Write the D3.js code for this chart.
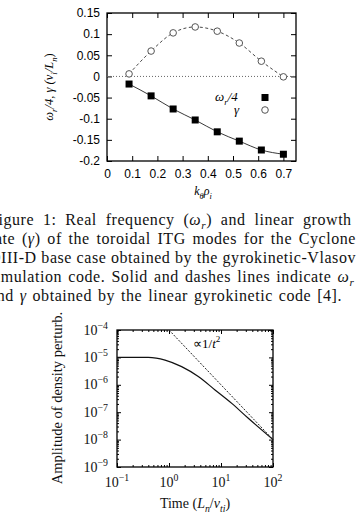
<!DOCTYPE html>
<html>
<head>
<meta charset="utf-8">
<script src="https://cdn.jsdelivr.net/npm/d3@7"></script>
<style>
body { margin: 0; background: #fff; overflow: hidden; }
svg { display: block; }
</style>
</head>
<body>
<script>
// top panel: growth rate and real frequency vs k_theta rho_i
const kRho = [0.0875, 0.175, 0.2625, 0.35, 0.4375, 0.525, 0.6125, 0.7];
const gammaVals = [0.006, 0.060, 0.103, 0.117, 0.107, 0.079, 0.036, -0.001];
const omegaQuarter = [-0.018, -0.046, -0.077, -0.103, -0.131, -0.153, -0.174, -0.184];
const topYTicks = [-0.2, -0.15, -0.1, -0.05, 0, 0.05, 0.1, 0.15];
const topXTicks = [0, 0.1, 0.2, 0.3, 0.4, 0.5, 0.6, 0.7];

// bottom panel: amplitude decay vs time
const timeVals = [0.1, 0.2, 0.4, 0.84, 1.75, 3.66, 7.67, 16.1, 33.5, 100];
const ampVals = [1e-5, 1e-5, 1e-5, 8.0e-6, 4.6e-6, 2.0e-6, 6.5e-7, 2.1e-7, 6e-8, 1e-8];
const fitTime = [1, 100];
const fitAmp = [1e-4, 1e-8];
const botYTicks = [1e-9, 1e-8, 1e-7, 1e-6, 1e-5, 1e-4];
const botYExp = ["−9", "−8", "−7", "−6", "−5", "−4"];
const botXTicks = [0.1, 1, 10, 100];
const botXExp = ["−1", "0", "1", "2"];

const caption = [
  [["Figure 1:  Real frequency ("], ["ω", "it"], ["r", "sub it"], [") and linear growth"]],
  [["rate ("], ["γ", "it"], [") of the toroidal ITG modes for the Cyclone"]],
  [["DIII-D base case obtained by the gyrokinetic-Vlasov"]],
  [["simulation code.  Solid and dashes lines indicate "], ["ω", "it"], ["r", "sub it"]],
  [["and "], ["γ", "it"], [" obtained by the linear gyrokinetic code [4]."]]
];

const SERIF = "'Liberation Serif', 'Times New Roman', serif";
const SANS = "'Liberation Sans', Arial, sans-serif";

var svg = d3.select("body").append("svg")
  .attr("width", 357)
  .attr("height", 513);

// text with sub/superscripts, parts = [[str, flags], ...]
function rich(sel, parts, size) {
  var shift = 0;
  parts.forEach(p => {
    var f = p[1] || "";
    var want = f.includes("sub") ? size * 0.3 : f.includes("sup") ? -size * 0.42 : 0;
    sel.append("tspan")
      .attr("dy", want - shift)
      .attr("font-size", want != 0 ? size * 0.7 : size)
      .attr("font-style", f.includes("it") ? "italic" : "normal")
      .text(p[0]);
    shift = want;
  });
  return sel;
}

// ---------- top panel ----------
var xT = d3.scaleLinear().domain([0, 0.75]).range([107, 296]);
var yT = d3.scaleLinear().domain([-0.2, 0.15]).range([161, 13]);

var fmt = d => String(+d.toFixed(2));

function styleAxis(g, size, family) {
  g.attr("font-size", size).attr("font-family", family);
  g.select(".domain").remove();
  g.selectAll(".tick line").attr("stroke", "#000").attr("stroke-width", 1);
  g.selectAll(".tick text").attr("fill", "#000");
}

svg.append("g").attr("transform", "translate(107,0)")
  .call(d3.axisLeft(yT).tickValues(topYTicks).tickSize(-5).tickPadding(7).tickFormat(fmt))
  .call(g => styleAxis(g, 12, SANS));
svg.append("g").attr("transform", "translate(296,0)")
  .call(d3.axisRight(yT).tickValues(topYTicks).tickSize(-5).tickFormat(""))
  .call(g => styleAxis(g, 12, SANS));
svg.append("g").attr("transform", "translate(0,161)")
  .call(d3.axisBottom(xT).tickValues(topXTicks).tickSize(-5).tickPadding(8).tickFormat(fmt))
  .call(g => styleAxis(g, 12, SANS));
svg.append("g").attr("transform", "translate(0,13)")
  .call(d3.axisTop(xT).tickValues(topXTicks).tickSize(-5).tickFormat(""))
  .call(g => styleAxis(g, 12, SANS));

svg.append("rect")
  .attr("x", xT(0)).attr("y", yT(0.15))
  .attr("width", xT(0.75) - xT(0)).attr("height", yT(-0.2) - yT(0.15))
  .attr("fill", "none").attr("stroke", "#000").attr("stroke-width", 1.3);

// zero line
svg.append("line")
  .attr("x1", xT(0)).attr("x2", xT(0.75))
  .attr("y1", yT(0)).attr("y2", yT(0))
  .attr("stroke", "#666").attr("stroke-width", 1).attr("stroke-dasharray", "1,2");

var topLine = d3.line().curve(d3.curveMonotoneX);

svg.append("path")
  .attr("d", topLine(kRho.map((k, i) => [xT(k), yT(gammaVals[i])])))
  .attr("fill", "none").attr("stroke", "#333").attr("stroke-width", 0.9)
  .attr("stroke-dasharray", "3,2.5");
svg.append("path")
  .attr("d", topLine(kRho.map((k, i) => [xT(k), yT(omegaQuarter[i])])))
  .attr("fill", "none").attr("stroke", "#222").attr("stroke-width", 0.9);

svg.append("g").selectAll("rect")
  .data(omegaQuarter)
  .enter().append("rect")
  .attr("x", (d, i) => xT(kRho[i]) - 3.5)
  .attr("y", d => yT(d) - 3.5)
  .attr("width", 7).attr("height", 7)
  .attr("fill", "#000");

svg.append("g").selectAll("circle")
  .data(gammaVals)
  .enter().append("circle")
  .attr("cx", (d, i) => xT(kRho[i]))
  .attr("cy", d => yT(d))
  .attr("r", 3.3)
  .attr("fill", "#fff").attr("stroke", "#555").attr("stroke-width", 1);

// legend
rich(svg.append("text").attr("x", 215).attr("y", 101).attr("font-family", SERIF),
  [["ω", "it"], ["r", "sub it"], ["/4", "it"]], 13);
svg.append("rect").attr("x", 261.5).attr("y", 94).attr("width", 7).attr("height", 7).attr("fill", "#000");
rich(svg.append("text").attr("x", 234).attr("y", 114).attr("font-family", SERIF),
  [["γ", "it"]], 13);
svg.append("circle").attr("cx", 265).attr("cy", 110).attr("r", 3.3)
  .attr("fill", "#fff").attr("stroke", "#555");

// axis titles
rich(svg.append("text").attr("transform", "translate(53,87) rotate(-90)")
  .attr("text-anchor", "middle").attr("font-family", SERIF),
  [["ω", "it"], ["r", "sub it"], ["/4, γ (", "it"], ["v", "it"], ["i", "sub it"], ["/", "it"], ["L", "it"], ["n", "sub it"], [")"]], 12.5);
rich(svg.append("text").attr("x", 203).attr("y", 195)
  .attr("text-anchor", "middle").attr("font-family", SERIF),
  [["k", "it"], ["θ", "sub it"], ["ρ", "it"], ["i", "sub it"]], 12);

// ---------- caption (justified, left edge cropped) ----------
caption.forEach((line, i) => {
  var t = svg.append("text")
    .attr("x", -11).attr("y", 224.5 + i * 19)
    .attr("font-family", SERIF).attr("fill", "#111")
    .attr("letter-spacing", 0.55);
  rich(t, line, 16);
  var len = t.node().getComputedTextLength();
  var spaces = line.map(p => p[0]).join("").split(" ").length - 1;
  var target = i < 4 ? 367 : 353;
  t.attr("word-spacing", Math.max(0, (target - len) / spaces));
});

// ---------- bottom panel ----------
var xB = d3.scaleLog().domain([0.1, 100]).range([117, 273]);
var yB = d3.scaleLog().domain([1e-9, 1e-4]).range([467, 330]);

var isMajor = v => Math.abs(Math.log10(v) - Math.round(Math.log10(v))) < 1e-6;
var yMinor = yB.ticks().filter(v => !isMajor(v));
var xMinor = xB.ticks().filter(v => !isMajor(v));

[[d3.axisLeft, 117], [d3.axisRight, 273]].forEach(a => {
  svg.append("g").attr("transform", "translate(" + a[1] + ",0)")
    .call(a[0](yB).tickValues(botYTicks).tickSize(-4).tickFormat(""))
    .call(g => styleAxis(g, 14, SERIF));
  svg.append("g").attr("transform", "translate(" + a[1] + ",0)")
    .call(a[0](yB).tickValues(yMinor).tickSize(-2).tickFormat(""))
    .call(g => styleAxis(g, 14, SERIF));
});
[[d3.axisBottom, 467], [d3.axisTop, 330]].forEach(a => {
  svg.append("g").attr("transform", "translate(0," + a[1] + ")")
    .call(a[0](xB).tickValues(botXTicks).tickSize(-4).tickFormat(""))
    .call(g => styleAxis(g, 14, SERIF));
  svg.append("g").attr("transform", "translate(0," + a[1] + ")")
    .call(a[0](xB).tickValues(xMinor).tickSize(-2).tickFormat(""))
    .call(g => styleAxis(g, 14, SERIF));
});

svg.append("rect")
  .attr("x", xB(0.1)).attr("y", yB(1e-4))
  .attr("width", xB(100) - xB(0.1)).attr("height", yB(1e-9) - yB(1e-4))
  .attr("fill", "none").attr("stroke", "#000").attr("stroke-width", 1.3);

// tick labels with exponents
botYTicks.forEach((v, i) => {
  rich(svg.append("text").attr("x", 108).attr("y", yB(v) + 4.5)
    .attr("text-anchor", "end").attr("font-family", SERIF).attr("fill", "#111"),
    [["10"], [botYExp[i], "sup"]], 14);
});
botXTicks.forEach((v, i) => {
  rich(svg.append("text").attr("x", xB(v)).attr("y", 487)
    .attr("text-anchor", "middle").attr("font-family", SERIF).attr("fill", "#111"),
    [["10"], [botXExp[i], "sup"]], 14);
});

svg.append("path")
  .attr("d", d3.line().curve(d3.curveMonotoneX)(timeVals.map((t, i) => [xB(t), yB(ampVals[i])])))
  .attr("fill", "none").attr("stroke", "#111").attr("stroke-width", 1.2);
svg.append("path")
  .attr("d", d3.line()(fitTime.map((t, i) => [xB(t), yB(fitAmp[i])])))
  .attr("fill", "none").attr("stroke", "#222").attr("stroke-width", 1)
  .attr("stroke-dasharray", "2,1.5");

rich(svg.append("text").attr("x", 193).attr("y", 347.5).attr("font-family", SERIF),
  [["∝1/"], ["t", "it"], ["2", "sup"]], 13);

rich(svg.append("text").attr("transform", "translate(62,398) rotate(-90)")
  .attr("text-anchor", "middle").attr("font-family", SERIF).attr("fill", "#111"),
  [["Amplitude of density perturb."]], 14.5);
rich(svg.append("text").attr("x", 195).attr("y", 508)
  .attr("text-anchor", "middle").attr("font-family", SERIF).attr("fill", "#111"),
  [["Time ("], ["L", "it"], ["n", "sub it"], ["/"], ["v", "it"], ["ti", "sub it"], [")"]], 14);
</script>
</body>
</html>
